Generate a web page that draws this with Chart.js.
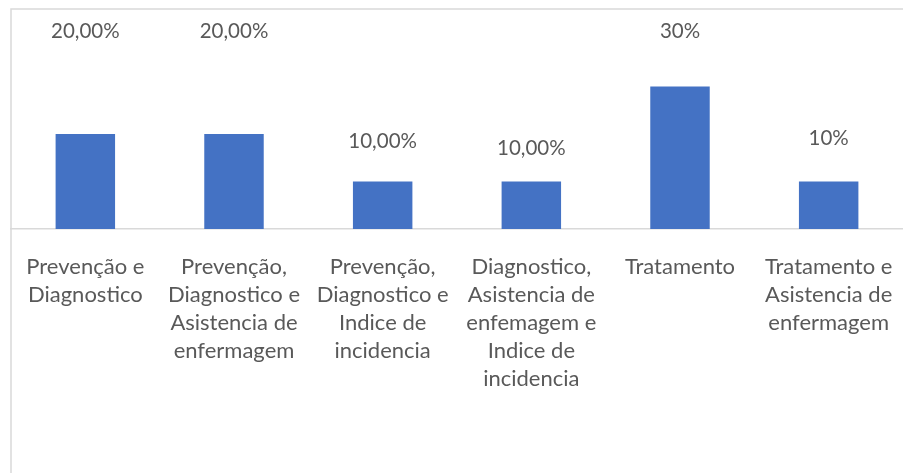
<!DOCTYPE html>
<html>
<head>
<meta charset="utf-8">
<script src="https://cdn.jsdelivr.net/npm/chart.js@4/dist/chart.umd.min.js"></script>
<style>
    html, body { margin: 0; padding: 0; background: #fff; }
    #wrap { position: relative; width: 903px; height: 473px; }
</style>
</head>
<body>
<div id="wrap"><canvas id="chart"></canvas></div>
<script>
const categories = [
    ['Prevenção e', 'Diagnostico'],
    ['Prevenção,', 'Diagnostico e', 'Asistencia de', 'enfermagem'],
    ['Prevenção,', 'Diagnostico e', 'Indice de', 'incidencia'],
    ['Diagnostico,', 'Asistencia de', 'enfemagem e', 'Indice de', 'incidencia'],
    ['Tratamento'],
    ['Tratamento e', 'Asistencia de', 'enfermagem']
];
const values = [20, 20, 10, 10, 30, 10];
const valueLabels = ['20,00%', '20,00%', '10,00%', '10,00%', '30%', '10%'];
// where Excel left each data label, in axis units
const labelAt = [41.7, 41.7, 18.5, 17, 41.7, 19];

const FONT = 'Lato, "Open Sans", sans-serif';
const TEXT = '#595959';
const LINE = '#D9D9D9';

const frame = {
    id: 'frame',
    beforeDraw(chart){
        const ctx = chart.ctx;
        ctx.save();
        ctx.strokeStyle = LINE;
        ctx.lineWidth = 1.5;
        ctx.beginPath();
        ctx.moveTo(11, chart.height);
        ctx.lineTo(11, 9);
        ctx.lineTo(chart.width, 9);
        ctx.stroke();
        ctx.restore();
    }
};

const dataLabels = {
    id: 'dataLabels',
    afterDatasetsDraw(chart){
        const ctx = chart.ctx;
        const y = chart.scales.y;
        const bars = chart.getDatasetMeta(0).data;
        ctx.save();
        ctx.fillStyle = TEXT;
        ctx.font = '20.5px ' + FONT;
        ctx.textAlign = 'center';
        ctx.textBaseline = 'middle';
        bars.forEach(function(bar, i){
            ctx.fillText(valueLabels[i], bar.x, y.getPixelForValue(labelAt[i]));
        });
        ctx.restore();
    }
};

new Chart(document.getElementById('chart'), {
    type: 'bar',
    data: {
        labels: categories,
        datasets: [{
            data: values,
            backgroundColor: '#4472C4',
            barPercentage: 0.4,
            categoryPercentage: 1
        }]
    },
    options: {
        responsive: true,
        maintainAspectRatio: false,
        animation: false,
        layout: { padding: { left: 11, right: 0, top: 39, bottom: 0 } },
        plugins: {
            legend: { display: false },
            tooltip: { enabled: false }
        },
        scales: {
            x: {
                grid: { display: false, drawTicks: false },
                border: { color: LINE, width: 1.5 },
                ticks: {
                    color: TEXT,
                    padding: 24,
                    maxRotation: 0,
                    autoSkip: false,
                    font: { family: FONT, size: 22, lineHeight: 28 / 22 }
                },
                afterFit(scale){
                    // labels fit inside their own category, no extra side room
                    scale.height = 244;
                    scale.paddingLeft = 0;
                    scale.paddingRight = 0;
                }
            },
            y: {
                display: false,
                min: 0,
                max: 40
            }
        }
    },
    plugins: [frame, dataLabels]
});
</script>
</body>
</html>
